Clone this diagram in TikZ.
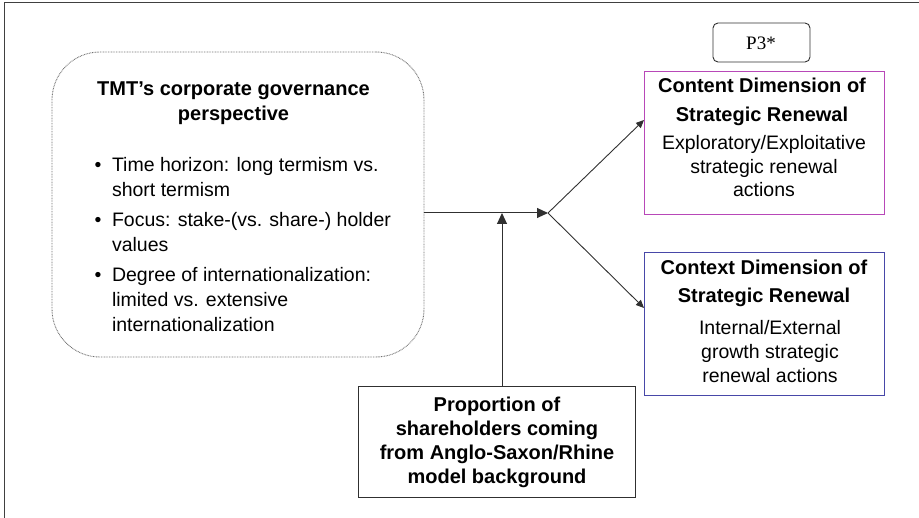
\documentclass[tikz,border=0pt]{standalone}
\usepackage{fontspec}
\setmainfont{Liberation Sans}
\newfontfamily\timesf{Liberation Serif}
\usetikzlibrary{arrows.meta}
\definecolor{contentc}{HTML}{B848B8}
\definecolor{contextc}{HTML}{4848A8}
\definecolor{linec}{HTML}{303030}
\definecolor{dotc}{HTML}{707070}
\definecolor{framec}{HTML}{404040}
\begin{document}
\begin{tikzpicture}[x=1pt,y=-1pt,
  box/.style={draw=linec, line width=0.9pt, inner sep=0pt, outer sep=0pt},
  txt/.style={inner sep=0pt, outer sep=0pt, anchor=base},
  arr/.style={draw=linec, line width=1pt, -{Triangle[length=11pt,width=10pt]}},
  arrs/.style={draw=linec, line width=0.9pt, -{Triangle[length=8pt,width=7pt]}}]
\useasboundingbox (0,0) rectangle (919,518);
% frame
\draw[framec, line width=1pt] (919,3) -- (4,3) -- (4,518);
% boxes
\node[box, draw=dotc, dash pattern=on 0.8pt off 0.8pt, line width=0.9pt, rounded corners=48pt, minimum width=372pt, minimum height=305pt] (tmt) at (238,204.5) {};
\node[box, rounded corners=5pt, minimum width=97pt, minimum height=39pt] (p3) at (761.5,42.5) {};
\node[box, draw=contentc, minimum width=240pt, minimum height=143pt] (content) at (764,142.5) {};
\node[box, draw=contextc, minimum width=240pt, minimum height=143pt] (context) at (764,323.5) {};
\node[box, minimum width=277pt, minimum height=111pt] (prop) at (496.5,441.5) {};
% texts
\node[txt, font=\bfseries\fontsize{20}{25}\selectfont] (tmtT) at (233.5,96)
  {\begin{tabular}[t]{@{}c@{}}TMT’s corporate governance\\perspective\end{tabular}};
\node[txt, anchor=base west, font=\fontsize{19.5}{25}\selectfont] (tmtL) at (94.6,172)
  {\begin{tabular}[t]{@{}l@{\hspace{10.6pt}}l@{}}
  • & Time horizon: long termism vs.\\
    & short termism\\[5pt]
  • & Focus: stake-(vs. share-) holder\\
    & values\\[5pt]
  • & Degree of internationalization:\\
    & limited vs. extensive\\
    & internationalization
  \end{tabular}};
\node[txt, font=\timesf\fontsize{19}{22}\selectfont] (p3T) at (761,50) {P3*};
\node[txt, font=\bfseries\fontsize{20}{29}\selectfont] (contentH) at (762,93)
  {\begin{tabular}[t]{@{}c@{}}Content Dimension of\\Strategic Renewal\end{tabular}};
\node[txt, font=\fontsize{19.5}{23.5}\selectfont] (contentB) at (764,150)
  {\begin{tabular}[t]{@{}c@{}}Exploratory/Exploitative\\strategic renewal\\actions\end{tabular}};
\node[txt, font=\bfseries\fontsize{20}{28}\selectfont] (contextH) at (764,275)
  {\begin{tabular}[t]{@{}c@{}}Context Dimension of\\Strategic Renewal\end{tabular}};
\node[txt, font=\fontsize{19.5}{24}\selectfont] (contextB) at (770,335)
  {\begin{tabular}[t]{@{}c@{}}Internal/External\\growth strategic\\renewal actions\end{tabular}};
\node[txt, font=\bfseries\fontsize{20}{24}\selectfont] (propT) at (497,412)
  {\begin{tabular}[t]{@{}c@{}}Proportion of\\shareholders coming\\from Anglo-Saxon/Rhine\\model background\end{tabular}};
% connectors
\coordinate (hub) at (548,213);
\coordinate (jn) at (502,213);
\draw[arr] (hub -| tmt.east) -- (hub);
\draw[arr] (jn |- prop.north) -- (jn);
\draw[arrs] (hub) -- ([yshift=22.5pt]content.west);
\draw[arrs] (hub) -- ([yshift=15.5pt]context.west);
\end{tikzpicture}
\end{document}
